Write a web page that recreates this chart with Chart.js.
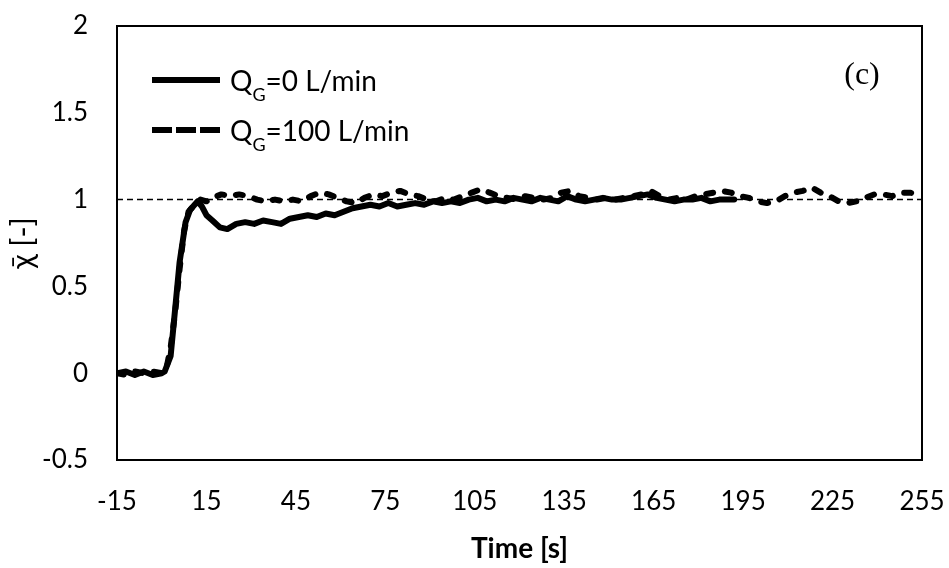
<!DOCTYPE html>
<html>

<head>
    <title>Mixing index vs time</title>
    <script src="https://cdn.jsdelivr.net/npm/chart.js"></script>
    <style>
        body {
            margin: 0;
            background: #fff;
            font-family: Lato, sans-serif;
        }

        .chart-wrap {
            width: 949px;
            height: 568px;
        }
    </style>
</head>

<body>
    <div class="chart-wrap"><canvas id="myChart"></canvas></div>

    <script>
        // QG = 0 L/min (solid)
        const timeQ0 = [-15, -12, -9, -6, -3, 0, 1, 3, 4.5, 6, 8, 9.5, 12, 13.5, 15, 17, 19.5, 22, 25, 28, 31, 34, 37, 40, 43, 46, 49, 52, 55, 58, 61, 64, 67, 70, 73, 76, 79, 82, 85, 88, 91, 94, 97, 100, 103, 106, 109, 112, 115, 118, 121, 124, 127, 130, 133, 136, 139, 142, 145, 148, 151, 154, 157, 160, 163, 166, 169, 172, 175, 178, 181, 184, 187, 190, 192];
        const chiQ0 = [0.00, 0.01, -0.01, 0.01, -0.01, 0.00, 0.01, 0.10, 0.37, 0.64, 0.87, 0.94, 0.99, 0.96, 0.91, 0.88, 0.84, 0.83, 0.86, 0.87, 0.86, 0.88, 0.87, 0.86, 0.89, 0.90, 0.91, 0.90, 0.92, 0.91, 0.93, 0.95, 0.96, 0.97, 0.96, 0.98, 0.96, 0.97, 0.98, 0.97, 0.99, 0.98, 0.99, 0.98, 1.00, 1.01, 0.99, 1.00, 0.99, 1.01, 1.00, 0.99, 1.01, 1.00, 0.99, 1.02, 1.00, 0.99, 1.00, 1.01, 1.00, 1.00, 1.01, 1.02, 1.03, 1.01, 1.00, 0.99, 1.00, 1.00, 1.01, 0.99, 1.00, 1.00, 1.00];

        // QG = 100 L/min (dashed)
        const timeQ100 = [-15, -12, -9, -6, -3, 0, 1.5, 3, 4.5, 6, 7.5, 9, 11, 13, 15, 17, 20, 23, 26, 29, 32, 35, 38, 41, 44, 47, 50, 53, 56, 59, 62, 65, 68, 71, 74, 77, 80, 83, 86, 89, 92, 95, 98, 101, 104, 107, 110, 113, 116, 119, 122, 125, 128, 131, 134, 137, 140, 143, 146, 149, 152, 155, 158, 161, 164, 167, 170, 173, 176, 179, 182, 185, 188, 191, 194, 197, 200, 203, 206, 209, 212, 215, 218, 221, 224, 227, 230, 233, 236, 239, 242, 245, 248, 251, 254, 255];
        const chiQ100 = [0.00, -0.01, 0.01, 0.00, 0.01, 0.00, 0.02, 0.15, 0.35, 0.60, 0.82, 0.93, 0.97, 1.00, 0.99, 1.01, 1.03, 1.02, 1.03, 1.02, 1.00, 0.99, 1.00, 0.99, 1.00, 0.99, 1.02, 1.04, 1.03, 1.01, 0.99, 0.98, 1.01, 1.03, 1.02, 1.04, 1.05, 1.03, 1.02, 1.00, 0.99, 1.01, 1.00, 1.02, 1.04, 1.06, 1.04, 1.02, 1.01, 1.00, 1.02, 1.01, 1.00, 1.01, 1.04, 1.05, 1.02, 1.01, 1.00, 1.01, 1.00, 1.01, 1.02, 1.03, 1.05, 1.02, 1.00, 1.01, 1.00, 1.02, 1.03, 1.04, 1.05, 1.04, 1.02, 1.01, 0.99, 0.98, 0.99, 1.02, 1.04, 1.05, 1.07, 1.04, 1.02, 0.99, 0.98, 0.99, 1.01, 1.03, 1.03, 1.02, 1.04, 1.04, 1.03, 1.02];

        // reference level chi = 1
        const timeRef = [-15, 255];
        const chiRef = [1, 1];

        const xTicks = [-15, 15, 45, 75, 105, 135, 165, 195, 225, 255];
        const yTicks = [-0.5, 0, 0.5, 1, 1.5, 2];

        // legend text split as [main, subscript, rest]
        const legendNames = [['Q', 'G', '=0 L/min'], ['Q', 'G', '=100 L/min']];
        const panelLabel = '(c)';

        const toPoints = (xs, ys) => xs.map((x, i) => ({ x: x, y: ys[i] }));

        // box around plot area, legend with subscripts, panel label
        const frameAndLegend = {
            id: 'frameAndLegend',
            afterDraw(chart) {
                const { ctx, chartArea: a } = chart;
                ctx.save();
                ctx.setLineDash([]);
                ctx.strokeStyle = '#000';
                ctx.lineWidth = 2;
                ctx.strokeRect(a.left, a.top, a.right - a.left, a.bottom - a.top);

                legendNames.forEach((parts, i) => {
                    const y = a.top + 54 + i * 50;
                    const x0 = a.left + 35;
                    ctx.beginPath();
                    ctx.setLineDash(i ? [20, 4] : []);
                    ctx.lineWidth = 6;
                    ctx.lineCap = 'butt';
                    ctx.moveTo(x0, y);
                    ctx.lineTo(x0 + 68, y);
                    ctx.stroke();
                    ctx.setLineDash([]);

                    ctx.fillStyle = '#000';
                    ctx.textBaseline = 'middle';
                    ctx.textAlign = 'left';
                    let x = x0 + 78;
                    ctx.font = '28px Lato';
                    ctx.fillText(parts[0], x, y + 2);
                    x += ctx.measureText(parts[0]).width;
                    ctx.font = '18px Lato';
                    ctx.fillText(parts[1], x, y + 15);
                    x += ctx.measureText(parts[1]).width;
                    ctx.font = '28px Lato';
                    ctx.fillText(parts[2], x, y + 2);
                });

                ctx.font = '32px "Liberation Serif"';
                ctx.textAlign = 'center';
                ctx.textBaseline = 'middle';
                ctx.fillText(panelLabel, a.right - 60, a.top + 50);
                ctx.restore();
            }
        };

        const myChart = new Chart(document.getElementById('myChart'), {
            type: 'line',
            data: {
                datasets: [
                    {
                        label: 'QG=0 L/min',
                        data: toPoints(timeQ0, chiQ0),
                        borderColor: '#000',
                        borderWidth: 6,
                        borderJoinStyle: 'round',
                        borderCapStyle: 'round',
                        pointRadius: 0,
                        order: 1,
                    },
                    {
                        label: 'QG=100 L/min',
                        data: toPoints(timeQ100, chiQ100),
                        borderColor: '#000',
                        borderWidth: 6,
                        borderDash: [7, 12],
                        borderCapStyle: 'round',
                        borderJoinStyle: 'round',
                        pointRadius: 0,
                        order: 2,
                    },
                    {
                        label: 'ref',
                        data: toPoints(timeRef, chiRef),
                        borderColor: '#000',
                        borderWidth: 1.5,
                        borderDash: [6, 4],
                        pointRadius: 0,
                        order: 3,
                    },
                ]
            },
            options: {
                maintainAspectRatio: false,
                animation: false,
                layout: {
                    padding: { top: 26, right: 27, left: 0, bottom: 0 }
                },
                scales: {
                    x: {
                        type: 'linear',
                        min: -15,
                        max: 255,
                        afterBuildTicks: (scale) => {
                            scale.ticks = xTicks.map(v => ({ value: v }));
                        },
                        afterFit: (scale) => {
                            scale.height = 108;
                            scale.paddingLeft = 0;
                            scale.paddingRight = 0;
                        },
                        grid: { display: false },
                        border: { display: true, color: '#000', width: 2 },
                        ticks: {
                            color: '#000',
                            font: { family: 'Lato', size: 26 },
                            padding: 18,
                            maxRotation: 0,
                            autoSkip: false,
                        },
                        title: {
                            display: true,
                            text: 'Time [s]',
                            color: '#000',
                            font: { family: 'Lato', size: 28, weight: 'bold' },
                            padding: { top: 0, bottom: 2 },
                        }
                    },
                    y: {
                        min: -0.5,
                        max: 2,
                        afterBuildTicks: (scale) => {
                            scale.ticks = yTicks.map(v => ({ value: v }));
                        },
                        afterFit: (scale) => {
                            scale.width = 117;
                            scale.paddingTop = 0;
                            scale.paddingBottom = 0;
                        },
                        grid: { display: false },
                        border: { display: true, color: '#000', width: 2 },
                        ticks: {
                            color: '#000',
                            font: { family: 'Lato', size: 26 },
                            padding: 21,
                            callback: (v) => String(v),
                        },
                        title: {
                            display: true,
                            text: 'χ̄ [-]',
                            color: '#000',
                            font: { family: 'Lato', size: 30 },
                            padding: { top: 5, bottom: 0 },
                        }
                    }
                },
                plugins: {
                    legend: { display: false },
                    tooltip: { enabled: false },
                }
            },
            plugins: [frameAndLegend]
        });
    </script>
</body>

</html>
